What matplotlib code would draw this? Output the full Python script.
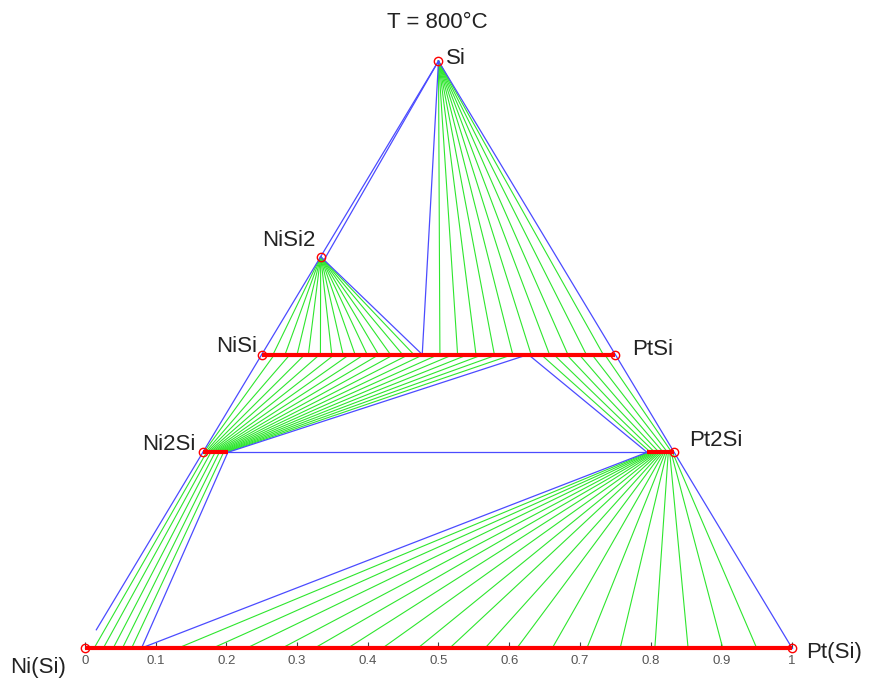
import matplotlib.pyplot as plt

plt.rcParams['font.family'] = ['Liberation Sans', 'DejaVu Sans']

BLUE = '#4b4bff'
GREEN = '#2ee62e'
RED = '#ff0000'

# Ternary section, x = Pt + Si/2, y = Si fraction
phase_names = ['Si', 'NiSi2', 'NiSi', 'PtSi', 'Ni2Si', 'Pt2Si', 'Ni(Si)', 'Pt(Si)']
phase_x = [0.5, 1/3, 0.25, 0.75, 1/6, 5/6, 0.0, 1.0]
phase_y = [1.0, 2/3, 0.5, 0.5, 1/3, 1/3, 0.0, 0.0]

# solid solution ranges (red bars)
ss_start = [0.0, 1/6, 0.795, 0.25]
ss_end = [1.0, 0.202, 5/6, 0.75]
ss_level = [0.0, 1/3, 1/3, 0.5]

# corners of the three-phase triangles on the solution lines
tri_a = 0.477   # on (Ni,Pt)Si, with Si + NiSi2
tri_b = 0.627   # on (Ni,Pt)Si, with Ni2Si + Pt2Si
tri_c = 0.080   # on (Ni,Pt)(Si), with Ni2Si + Pt2Si

# tie lines: NiSi2 -> (Ni,Pt)Si
nisi2_tie_end = [0.266, 0.283, 0.300, 0.316, 0.333, 0.349, 0.365, 0.382,
                 0.399, 0.415, 0.432, 0.449, 0.465]
# tie lines: Si -> (Ni,Pt)Si
si_tie_end = [0.502, 0.527, 0.553, 0.579, 0.605, 0.631, 0.657, 0.683, 0.709, 0.733]
# tie lines: (Ni,Pt)2Si (Ni side) -> (Ni,Pt)Si
ni2si_up_start = [0.168, 0.170, 0.172, 0.174, 0.176, 0.178, 0.180, 0.182, 0.184,
                  0.186, 0.188, 0.190, 0.192, 0.194, 0.196, 0.198, 0.200]
ni2si_up_end = [0.268, 0.290, 0.311, 0.332, 0.353, 0.374, 0.395, 0.416, 0.437,
                0.458, 0.479, 0.500, 0.521, 0.542, 0.563, 0.584, 0.605]
# tie lines: (Ni,Pt)2Si (Pt side) -> (Ni,Pt)Si
pt2si_up_start = [0.800, 0.806, 0.812, 0.818, 0.824, 0.830]
pt2si_up_end = [0.645, 0.663, 0.681, 0.699, 0.717, 0.735]
# tie lines: (Ni,Pt)2Si (Ni side) -> (Ni,Pt)(Si)
ni2si_down_start = [0.172, 0.178, 0.184, 0.190, 0.196]
ni2si_down_end = [0.013, 0.026, 0.040, 0.053, 0.066]
# tie lines: (Ni,Pt)2Si (Pt side) -> (Ni,Pt)(Si)
pt2si_down_start = [0.797, 0.799, 0.801, 0.803, 0.805, 0.807, 0.809, 0.811, 0.813,
                    0.815, 0.817, 0.819, 0.821, 0.823, 0.825, 0.827, 0.829, 0.831]
pt2si_down_end = [0.132, 0.181, 0.229, 0.279, 0.325, 0.372, 0.421, 0.471, 0.516,
                  0.566, 0.611, 0.661, 0.710, 0.757, 0.806, 0.853, 0.902, 0.950]

tick_values = [0, 0.1, 0.2, 0.3, 0.4, 0.5, 0.6, 0.7, 0.8, 0.9, 1]
tick_labels = ['0', '0.1', '0.2', '0.3', '0.4', '0.5', '0.6', '0.7', '0.8', '0.9', '1']


def seg(ax, p, q, color, lw=0.9):
    ax.plot([p[0], q[0]], [p[1], q[1]], color=color, lw=lw, clip_on=False)


def fan(ax, xs0, y0, xs1, y1):
    for a, b in zip(xs0, xs1):
        seg(ax, (a, y0), (b, y1), GREEN, lw=0.8)


fig = plt.figure(figsize=(8.7, 6.81), dpi=100)
ax = fig.add_axes([85 / 870, 33 / 681, 707 / 870, 587 / 681])
ax.set_xlim(0, 1)
ax.set_ylim(0, 1)

# green tie lines
fan(ax, [1/3] * len(nisi2_tie_end), 2/3, nisi2_tie_end, 0.5)
fan(ax, [0.5] * len(si_tie_end), 1.0, si_tie_end, 0.5)
fan(ax, ni2si_up_start, 1/3, ni2si_up_end, 0.5)
fan(ax, pt2si_up_start, 1/3, pt2si_up_end, 0.5)
fan(ax, ni2si_down_start, 1/3, ni2si_down_end, 0.0)
fan(ax, pt2si_down_start, 1/3, pt2si_down_end, 0.0)

# blue boundaries
si = (phase_x[0], phase_y[0])
nisi2 = (phase_x[1], phase_y[1])
nisi = (phase_x[2], phase_y[2])
ni2si = (phase_x[4], phase_y[4])
seg(ax, (0, 0), (1, 0), BLUE)
seg(ax, (1, 0), si, BLUE)
seg(ax, si, nisi2, BLUE)
seg(ax, nisi2, nisi, BLUE)
seg(ax, nisi, ni2si, BLUE)
seg(ax, ni2si, (0.016, 0.031), BLUE)
seg(ax, si, (0.339, 0.663), BLUE)
seg(ax, nisi2, (tri_a, 0.5), BLUE)
seg(ax, si, (tri_a, 0.5), BLUE)
seg(ax, (ss_end[1], 1/3), (tri_b, 0.5), BLUE)
seg(ax, (tri_b, 0.5), (ss_start[2], 1/3), BLUE)
seg(ax, (ss_end[1], 1/3), (ss_start[2], 1/3), BLUE)
seg(ax, (ss_end[1], 1/3), (tri_c, 0.0), BLUE)
seg(ax, (tri_c, 0.0), (ss_start[2], 1/3), BLUE)

# red solid solutions
for a, b, lvl in zip(ss_start, ss_end, ss_level):
    ax.plot([a, b], [lvl, lvl], color=RED, lw=3, solid_capstyle='butt', clip_on=False)

ax.plot(phase_x, phase_y, 'o', mfc='none', mec=RED, ms=6, mew=1, clip_on=False)

# labels
lab = dict(fontsize=16, color='#222222')
ax.text(0.511, 1.004, 'Si', ha='left', va='center', **lab)
ax.text(0.326, 0.695, 'NiSi2', ha='right', va='center', **lab)
ax.text(0.244, 0.513, 'NiSi', ha='right', va='center', **lab)
ax.text(0.774, 0.508, 'PtSi', ha='left', va='center', **lab)
ax.text(0.156, 0.346, 'Ni2Si', ha='right', va='center', **lab)
ax.text(0.854, 0.353, 'Pt2Si', ha='left', va='center', **lab)
ax.text(-0.106, -0.034, 'Ni(Si)', ha='left', va='center', **lab)
ax.text(1.020, -0.008, 'Pt(Si)', ha='left', va='center', **lab)
ax.text(0.498, 1.066, 'T = 800°C', ha='center', va='center', **lab)

ax.set_xticks(tick_values)
ax.set_xticklabels(tick_labels)
ax.set_yticks([])
ax.tick_params(axis='x', direction='in', length=4, pad=5, labelsize=9.5,
               labelcolor='#555555', color='#444444')
for s in ax.spines.values():
    s.set_visible(False)

fig.savefig('out.png', dpi=100)
